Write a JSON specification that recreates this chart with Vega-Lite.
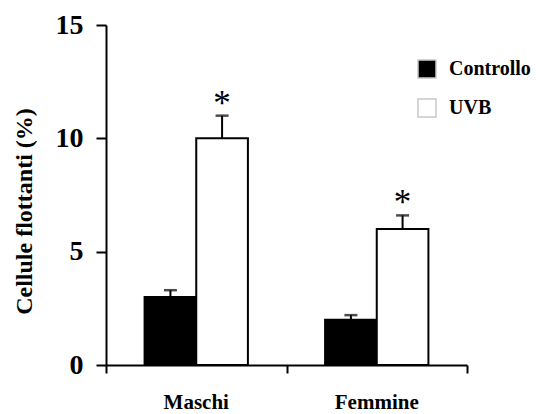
{
  "$schema": "https://vega.github.io/schema/vega-lite/v6.json",
  "width": 361,
  "height": 340,
  "autosize": "none",
  "padding": {"left": 106, "top": 25, "right": 69, "bottom": 49},
  "background": "white",
  "config": {
    "view": {"stroke": null},
    "font": "Liberation Serif"
  },
  "data": {
    "values": [
      {"sesso": "Maschi", "gruppo": "Controllo", "valore": 3.0, "errore": 3.3, "sig": ""},
      {"sesso": "Maschi", "gruppo": "UVB", "valore": 10.0, "errore": 11.0, "sig": "*"},
      {"sesso": "Femmine", "gruppo": "Controllo", "valore": 2.0, "errore": 2.2, "sig": ""},
      {"sesso": "Femmine", "gruppo": "UVB", "valore": 6.0, "errore": 6.6, "sig": "*"}
    ]
  },
  "resolve": {"scale": {"x": "independent"}, "axis": {"x": "independent"}},
  "layer": [
    {
      "encoding": {
        "x": {
          "field": "sesso", "type": "nominal", "sort": ["Maschi", "Femmine"],
          "scale": {"paddingInner": 0, "paddingOuter": 0},
          "axis": {"title": null, "ticks": false, "domain": false, "labelAngle": 0,
                   "labelFont": "Liberation Serif", "labelFontWeight": "bold", "labelFontSize": 21,
                   "labelColor": "black", "labelPadding": 26}
        },
        "xOffset": {"field": "gruppo", "type": "nominal", "sort": ["Controllo", "UVB"],
                    "scale": {"paddingInner": 0, "paddingOuter": 0.747}},
        "y": {
          "field": "valore", "type": "quantitative",
          "scale": {"domain": [0, 15], "nice": false},
          "axis": {"values": [0, 5, 10, 15], "title": "Cellule flottanti (%)", "grid": false,
                   "domainColor": "black", "domainWidth": 2, "tickColor": "black", "tickWidth": 2, "tickSize": 10,
                   "labelFont": "Liberation Serif", "labelFontWeight": "bold", "labelFontSize": 28,
                   "labelColor": "black", "labelPadding": 13,
                   "titleFont": "Liberation Serif", "titleFontWeight": "bold", "titleFontSize": 24,
                   "titleColor": "black", "titleX": -82, "titleY": 186, "titleAngle": 270,
                   "titleAlign": "center", "titleBaseline": "middle"}
        }
      },
      "layer": [
        {
          "mark": {"type": "bar", "stroke": "black", "strokeWidth": 2},
          "encoding": {
            "fill": {"field": "gruppo", "type": "nominal", "sort": ["Controllo", "UVB"],
                     "scale": {"domain": ["Controllo", "UVB"], "range": ["#000000", "#ffffff"]},
                     "legend": {"title": null, "orient": "none", "legendX": 311, "legendY": 34,
                                "padding": 0, "symbolType": "square", "symbolSize": 324,
                                "symbolStrokeColor": "#c8c8c8", "symbolStrokeWidth": 1.5,
                                "labelFont": "Liberation Serif", "labelFontWeight": "bold",
                                "labelFontSize": 20, "labelColor": "black", "labelOffset": 12,
                                "rowPadding": 15}}
          }
        },
        {
          "mark": {"type": "rule", "color": "black", "strokeWidth": 2},
          "encoding": {"y2": {"field": "errore"}}
        },
        {
          "mark": {"type": "tick", "color": "black", "thickness": 2.5, "size": 13, "orient": "horizontal"},
          "encoding": {"y": {"field": "errore", "type": "quantitative"}}
        },
        {
          "mark": {"type": "text", "fontSize": 35, "font": "Liberation Serif", "color": "black",
                   "baseline": "alphabetic", "dy": -1},
          "encoding": {"y": {"field": "errore", "type": "quantitative"}, "text": {"field": "sig"}}
        }
      ]
    },
    {
      "mark": {"type": "rule", "opacity": 0},
      "encoding": {
        "x": {"datum": 1, "type": "quantitative", "scale": {"domain": [0, 2], "nice": false},
              "axis": {"values": [0, 1, 2], "labels": false, "title": null, "grid": false,
                       "domainColor": "black", "domainWidth": 2, "tickColor": "black",
                       "tickWidth": 2, "tickSize": 8, "orient": "bottom"}}
      }
    }
  ]
}
